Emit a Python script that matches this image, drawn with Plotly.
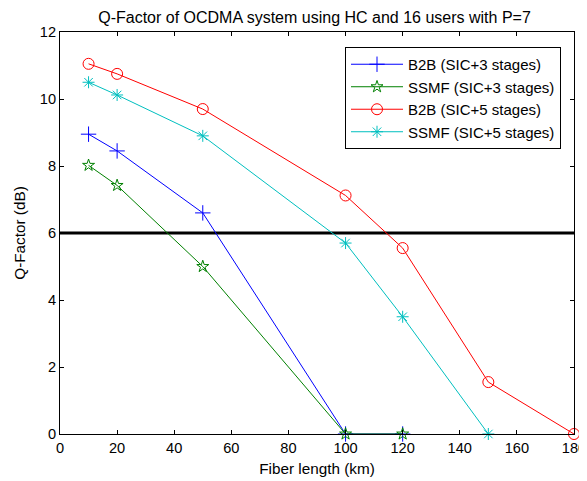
import plotly.graph_objects as go

x_sic3 = [10, 20, 50, 100, 120]
b2b_sic3 = [8.95, 8.45, 6.6, 0, 0]
ssmf_sic3 = [8.02, 7.42, 5.0, 0, 0]
x_b2b_sic5 = [10, 20, 50, 100, 120, 150, 180]
b2b_sic5 = [11.05, 10.75, 9.7, 7.12, 5.55, 1.55, 0]
x_ssmf_sic5 = [10, 20, 50, 100, 120, 150]
ssmf_sic5 = [10.5, 10.12, 8.9, 5.7, 3.5, 0]
threshold_x = [0, 180]
threshold_y = [6, 6]

names = ["B2B (SIC+3 stages)", "SSMF (SIC+3 stages)", "B2B (SIC+5 stages)", "SSMF (SIC+5 stages)"]

fig = go.Figure()
fig.add_trace(go.Scatter(x=threshold_x, y=threshold_y, mode="lines",
                         line=dict(color="black", width=2.8), showlegend=False,
                         hoverinfo="skip"))
series = [
    (x_sic3, b2b_sic3, "#0000ff", "cross-thin-open", 11),
    (x_sic3, ssmf_sic3, "#008000", "star-open", 9),
    (x_b2b_sic5, b2b_sic5, "#ff0000", "circle-open", 11),
    (x_ssmf_sic5, ssmf_sic5, "#00bfbf", "asterisk-open", 10),
]
for (xs, ys, c, sym, sz), nm in zip(series, names):
    fig.add_trace(go.Scatter(x=xs, y=ys, name=nm, mode="lines+markers",
                             line=dict(color=c, width=1),
                             marker=dict(symbol=sym, size=sz, color=c,
                                         line=dict(color=c, width=1)),
                             cliponaxis=False))

axis_common = dict(showline=True, linecolor="black", linewidth=1, mirror="ticks",
                   ticks="inside", ticklen=4, tickcolor="black", showgrid=False,
                   zeroline=False, automargin=False,
                   tickfont=dict(size=14.6, color="black"))

# the page body has an 8px margin, so the figure is sized to fit the window
fig.update_layout(
    width=579, height=473,
    margin=dict(l=52, r=13, t=24, b=47),
    paper_bgcolor="white", plot_bgcolor="white",
    font=dict(family="Liberation Sans, Arial, sans-serif", color="black"),
    title=dict(text="Q-Factor of OCDMA system using HC and 16 users with P=7",
               x=0.5294, xanchor="center", y=0.992, yanchor="top",
               font=dict(size=16, color="black")),
    xaxis=dict(range=[0, 180], dtick=20, tick0=0,
               title=dict(text="Fiber length (km)", font=dict(size=15.3), standoff=8),
               **axis_common),
    yaxis=dict(range=[0, 12], dtick=2, tick0=0,
               title=dict(text="Q-Factor (dB)", font=dict(size=15.3), standoff=10),
               **axis_common),
    legend=dict(x=0.5545, y=0.9627, xanchor="left", yanchor="top",
                bordercolor="black", borderwidth=1, bgcolor="white",
                font=dict(size=15), tracegroupgap=0, itemwidth=52),
)

fig.write_html("out.html")
